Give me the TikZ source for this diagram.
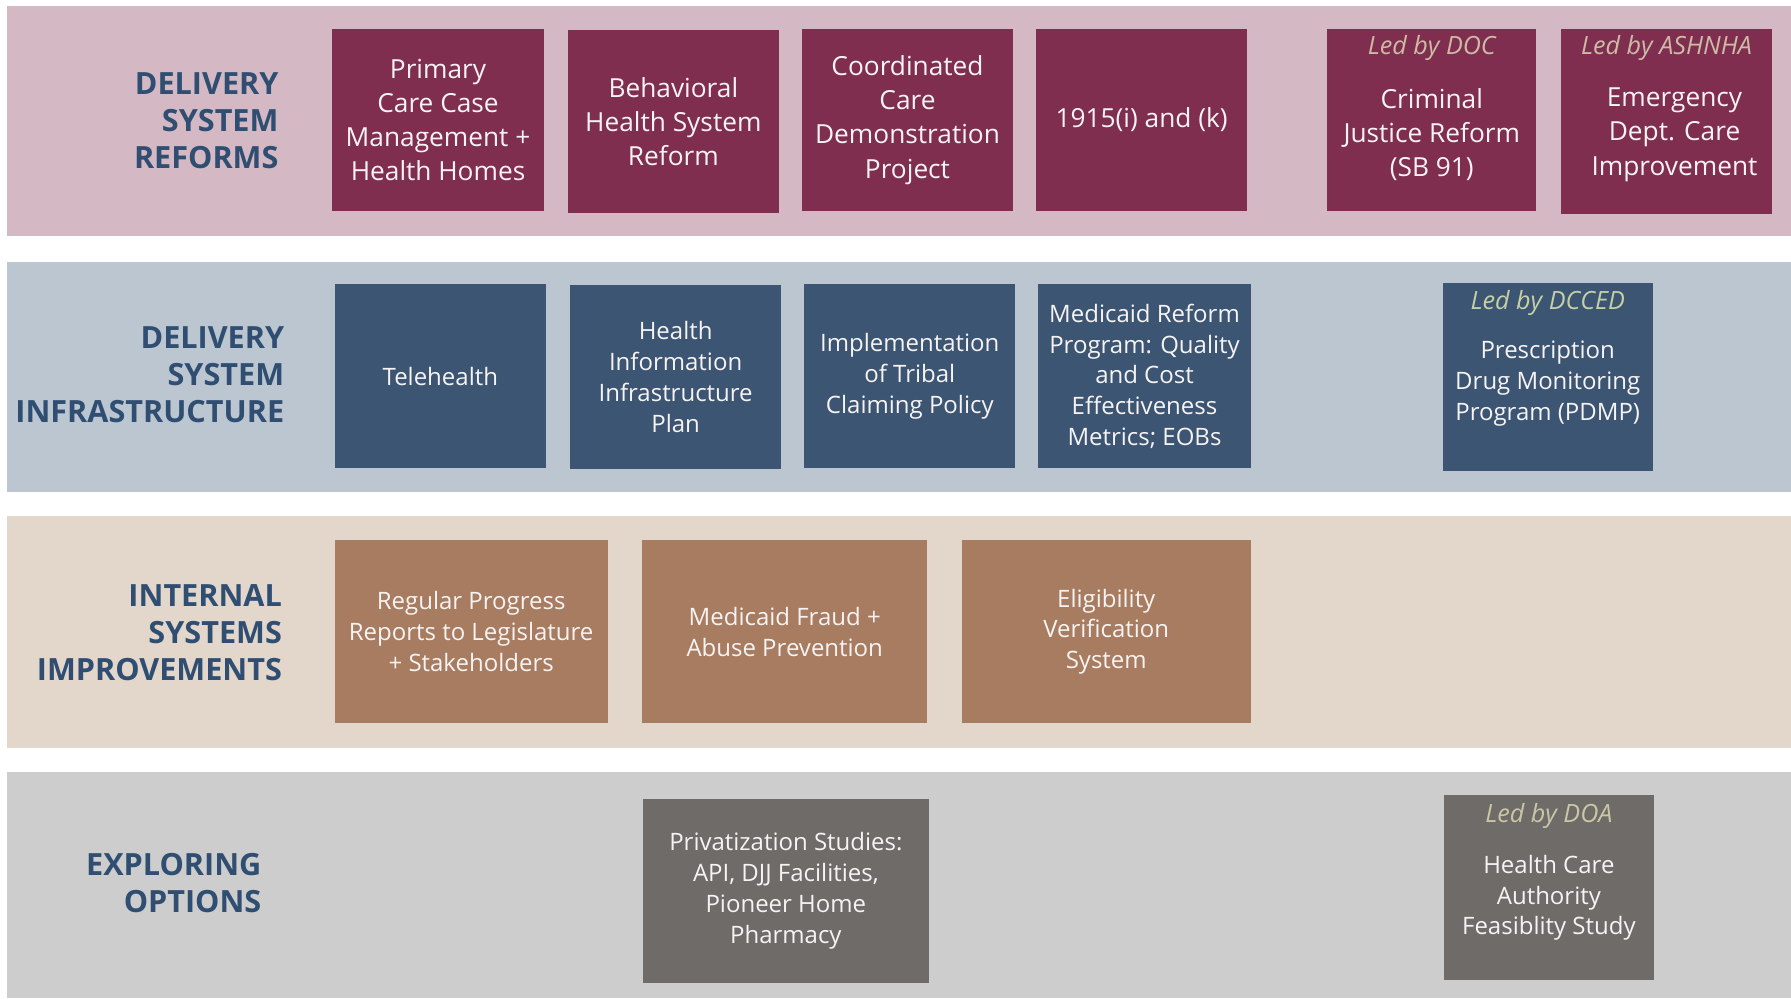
\documentclass[tikz,border=0pt]{standalone}
\usepackage{fontspec}
\setmainfont{Open Sans}
\definecolor{bandA}{HTML}{D4B9C5}
\definecolor{bandB}{HTML}{BCC6D1}
\definecolor{bandC}{HTML}{E3D6CB}
\definecolor{bandD}{HTML}{CDCDCD}
\definecolor{boxA}{HTML}{7F2E50}
\definecolor{boxB}{HTML}{3B5573}
\definecolor{boxC}{HTML}{A77C60}
\definecolor{boxD}{HTML}{6E6B69}
\definecolor{headc}{HTML}{2F4E72}
\definecolor{ledA}{HTML}{CDBBA5}
\definecolor{ledB}{HTML}{C5D0A6}
\definecolor{ledD}{HTML}{C9C8A6}
\definecolor{boxtext}{HTML}{F7F3F3}
\tikzset{
  band/.style={fill=#1, draw=none},
  basebox/.style={draw=none, inner sep=0pt, align=center, text=boxtext},
  rbox/.style={basebox, fill=boxA, minimum width=185pt, minimum height=160pt, font={\fontsize{23}{30}\selectfont}},
  bbox/.style={basebox, fill=boxB, minimum width=185pt, minimum height=161pt, font={\fontsize{21}{27}\selectfont}},
  cbox/.style={basebox, fill=boxC, minimum height=160pt, font={\fontsize{21}{27}\selectfont}},
  gbox/.style={basebox, fill=boxD, minimum height=161pt, font={\fontsize{21}{27}\selectfont}},
  boxlabel/.style={align=center, text=boxtext, inner sep=0pt},
  ledby/.style={font={\fontsize{22}{27}\selectfont\itshape}, inner sep=0pt, text=#1},
  head/.style={align=right, anchor=east, text=headc, inner sep=0pt, font={\fontsize{26.8}{32.5}\selectfont\bfseries}},
}
\begin{document}
\begin{tikzpicture}[x=1pt,y=-1pt]
\useasboundingbox (0,0) rectangle (1568,874);
\fill[white] (0,0) rectangle (1568,874);
% bands
\fill[band=bandA] (6,5) rectangle (1568,207);
\fill[band=bandB] (6,229) rectangle (1568,431);
\fill[band=bandC] (6,452) rectangle (1568,655);
\fill[band=bandD] (6,676) rectangle (1568,874);
% headings
\node[head] (h1) at (244,106) {DELIVERY\\SYSTEM\\REFORMS};
\node[head] (h2) at (249,328) {DELIVERY\\SYSTEM\\INFRASTRUCTURE};
\node[head] (h3) at (247,554) {INTERNAL\\SYSTEMS\\IMPROVEMENTS};
\node[head] (h4) at (229,773) {EXPLORING\\OPTIONS};
% row 1
\node[rbox] (a1) at (383.5,105) {Primary\\Care Case\\Management +\\Health Homes};
\node[rbox] (a2) at (589.5,106.5) {Behavioral\\Health System\\Reform};
\node[rbox] (a3) at (794.5,105) {Coordinated\\Care\\Demonstration\\Project};
\node[rbox] (a4) at (999.5,105) {1915(i) and (k)};
\node[rbox, minimum width=183pt] (a5) at (1253.5,105) {};
\node[ledby=ledA] (a5l) at (1253.5,42) {Led by DOC};
\node[boxlabel, font={\fontsize{23}{30}\selectfont}] (a5t) at (1253.5,118) {Criminal\\Justice Reform\\(SB 91)};
\node[rbox, minimum width=184pt, minimum height=162pt] (a6) at (1459,106) {};
\node[ledby=ledA] (a6l) at (1459,42) {Led by ASHNHA};
\node[boxlabel, font={\fontsize{23}{30}\selectfont}] (a6t) at (1466,118) {Emergency\\Dept. Care\\Improvement};
% row 2
\node[bbox] (b1) at (385.5,329.5) {Telehealth};
\node[bbox] (b2) at (591.5,330) {Health\\Information\\Infrastructure\\Plan};
\node[bbox] (b3) at (796.5,329.5) {Implementation\\of Tribal\\Claiming Policy};
\node[bbox, minimum width=186pt] (b4) at (1002,329.5) {Medicaid Reform\\Program: Quality\\and Cost\\Effectiveness\\Metrics; EOBs};
\node[bbox, minimum width=184pt, minimum height=164pt] (b5) at (1355,330) {};
\node[ledby=ledB] (b5l) at (1355,265) {Led by DCCED};
\node[boxlabel, font={\fontsize{21}{27}\selectfont}] (b5t) at (1355,336) {Prescription\\Drug Monitoring\\Program (PDMP)};
% row 3
\node[cbox, minimum width=239pt] (c1) at (412.5,553) {Regular Progress\\Reports to Legislature\\+ Stakeholders};
\node[cbox, minimum width=250pt] (c2) at (687,553) {Medicaid Fraud +\\Abuse Prevention};
\node[cbox, minimum width=253pt] (c3) at (968.5,553) {Eligibility\\Verification\\System};
% row 4
\node[gbox, minimum width=250pt] (d1) at (688,780) {Privatization Studies:\\API, DJJ Facilities,\\Pioneer Home\\Pharmacy};
\node[gbox, minimum width=184pt, minimum height=162pt] (d2) at (1356,777) {};
\node[ledby=ledD] (d2l) at (1356,714) {Led by DOA};
\node[boxlabel, font={\fontsize{21}{27}\selectfont}] (d2t) at (1356,786) {Health Care\\Authority\\Feasiblity Study};
\end{tikzpicture}
\end{document}
